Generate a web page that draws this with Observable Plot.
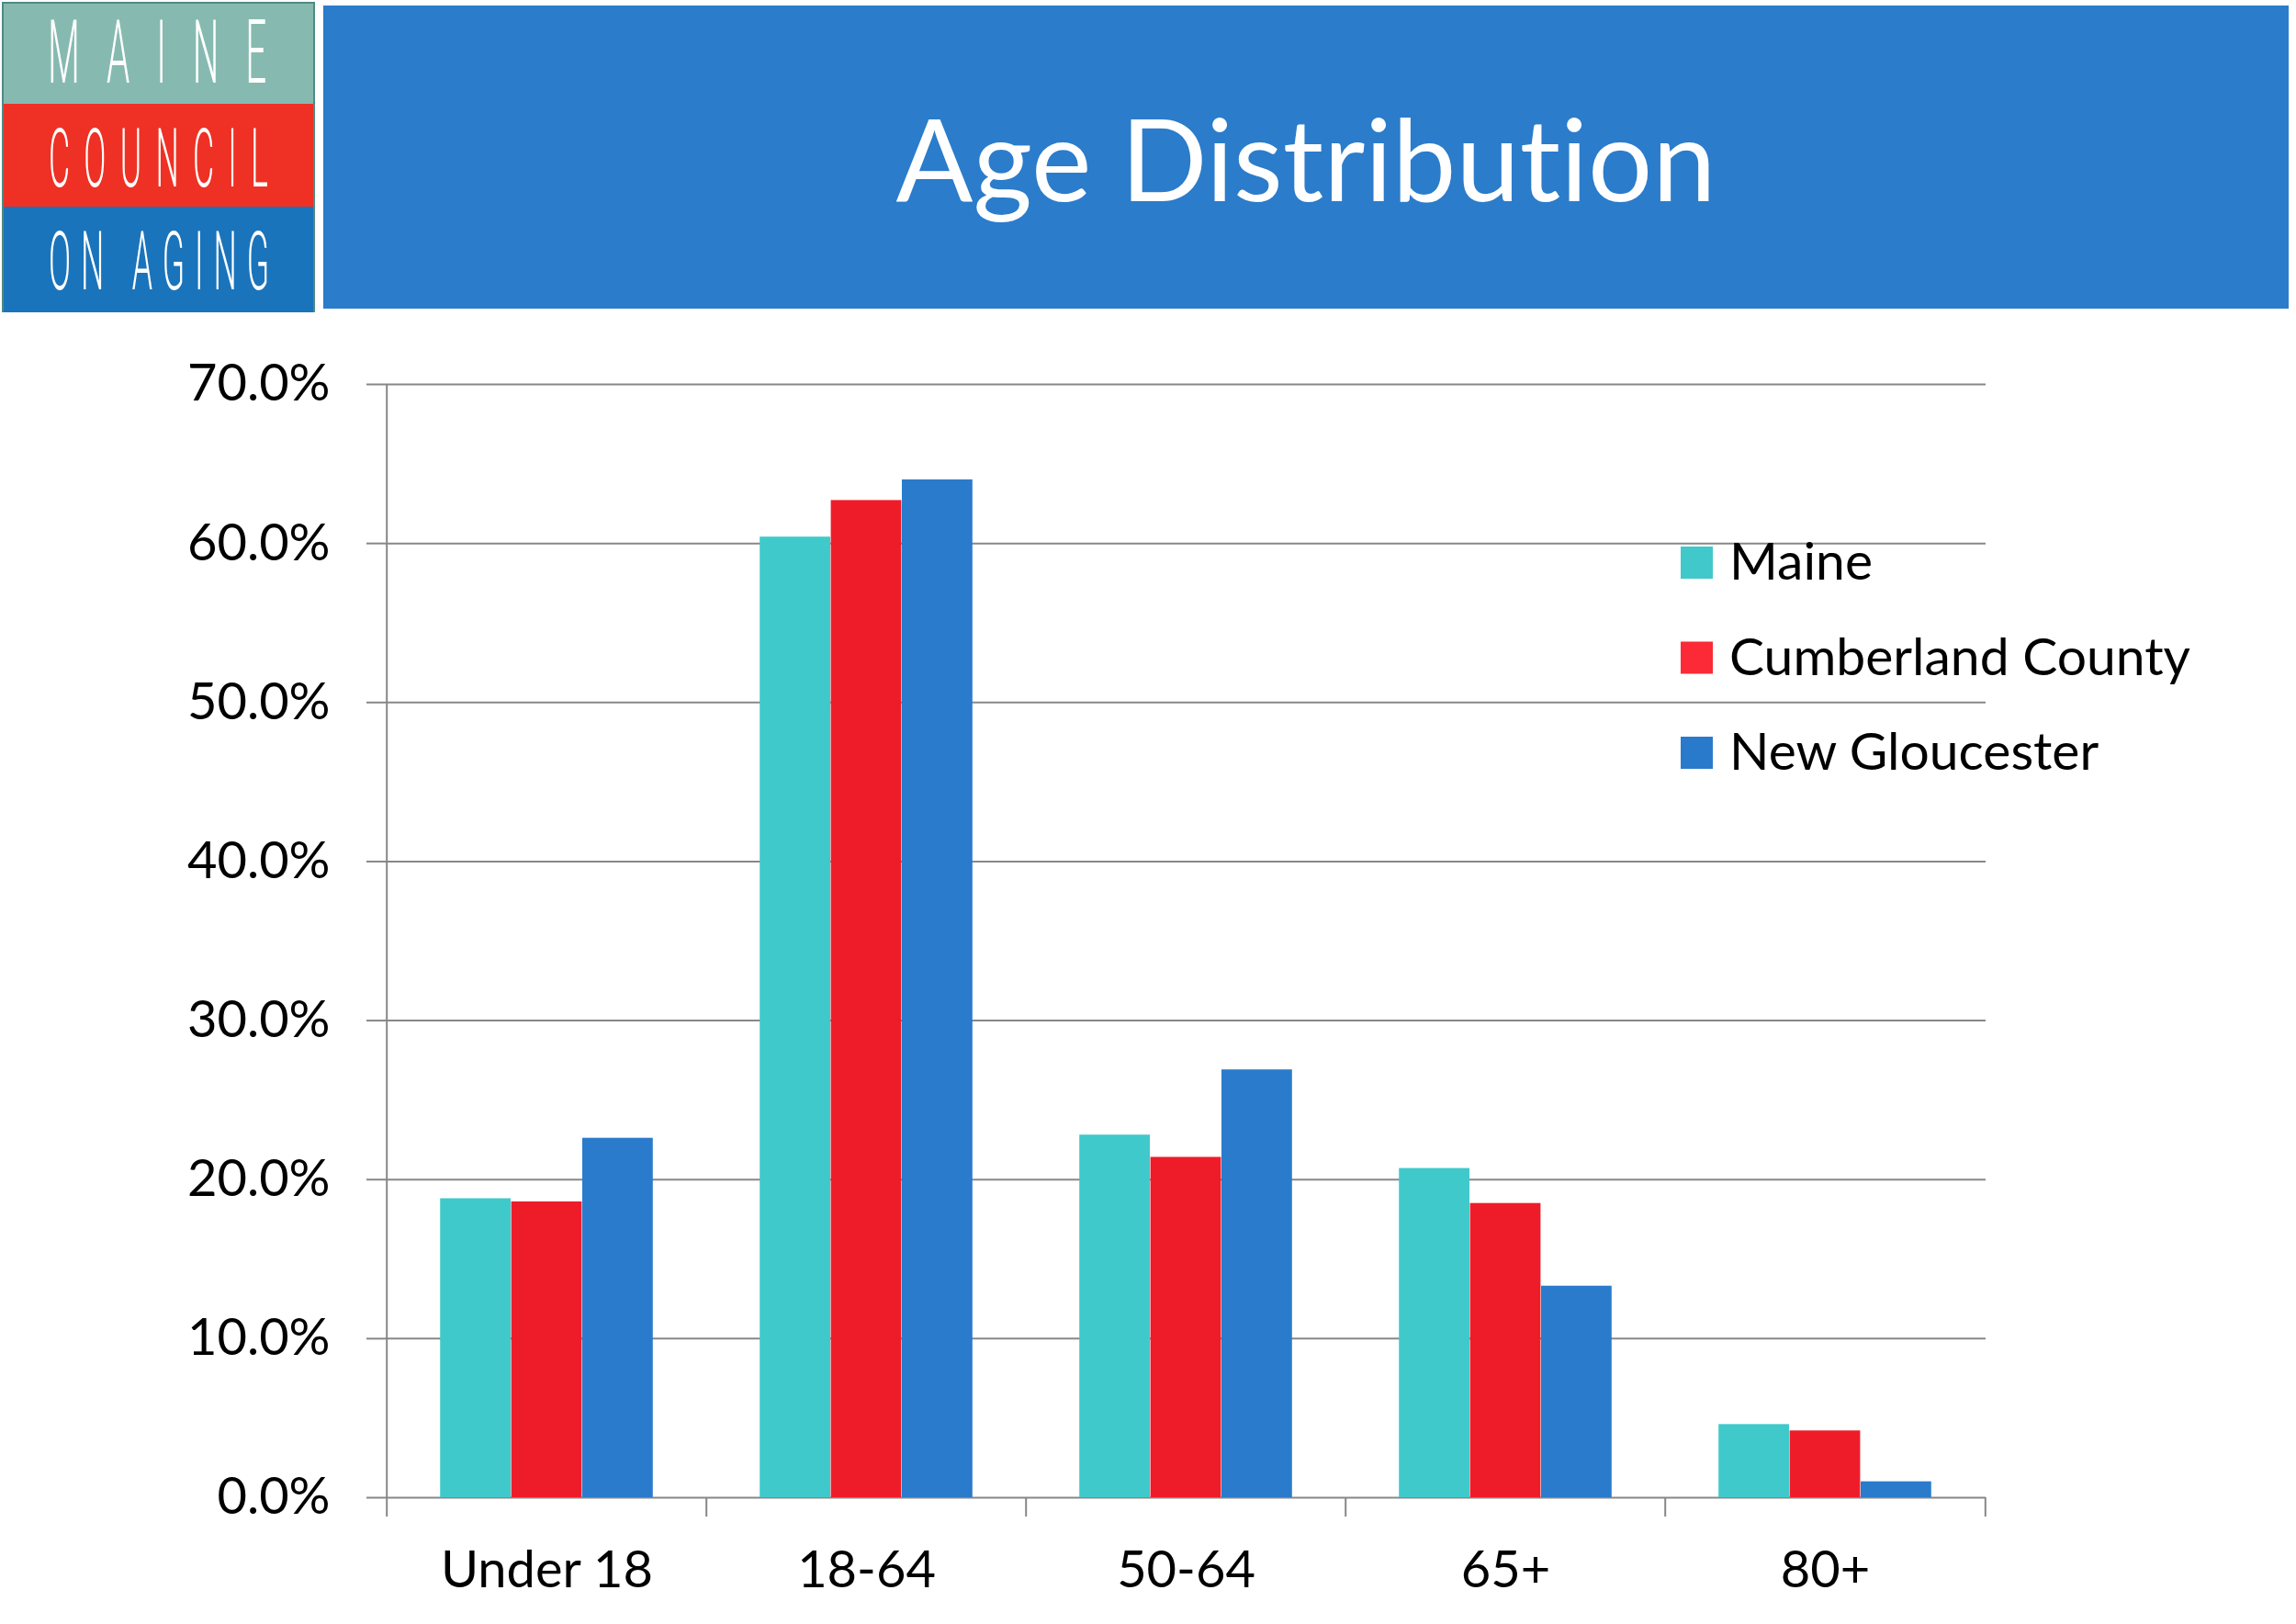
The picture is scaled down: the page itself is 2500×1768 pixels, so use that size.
<!DOCTYPE html>
<html><head><meta charset="utf-8">
<script src="https://cdn.jsdelivr.net/npm/d3@7"></script>
<script src="https://cdn.jsdelivr.net/npm/@observablehq/plot@0.6"></script>
<style>
html,body{margin:0;padding:0;background:#fff;width:2500px;height:1768px;overflow:hidden;font-family:Lato,sans-serif;}
svg text{font-variant-ligatures:none;font-feature-settings:"liga" 0;}
#header{position:absolute;left:0;top:0;}
#chart{position:absolute;left:0;top:340px;}
#legend{position:absolute;left:1800px;top:560px;}
#legend svg{overflow:visible;}
</style></head><body>
<svg id="header" width="2500" height="340">
  <rect x="3" y="3" width="339" height="110" fill="#86BAB0"/>
  <rect x="3" y="113" width="339" height="112" fill="#EE3124"/>
  <rect x="3" y="225" width="339" height="116" fill="#1A74BB"/>
  <rect x="3" y="3" width="339" height="338" fill="none" stroke="#4E8A84" stroke-width="2"/>
  <g font-family="Roboto" font-weight="300" fill="#fff">
    <text font-size="96" transform="translate(52,90) scale(0.42,1)" textLength="567" lengthAdjust="spacing">MAINE</text>
    <text font-size="89" transform="translate(53,203) scale(0.4,1)" textLength="597" lengthAdjust="spacing">COUNCIL</text>
    <text font-size="89" transform="translate(53,315) scale(0.4,1)" textLength="600" lengthAdjust="spacing">ON AGING</text>
  </g>
  <rect x="352" y="6" width="2140" height="330" fill="#2B7CCB"/>
  <text x="1422" y="219" text-anchor="middle" font-family="Lato" font-size="124" fill="#fff">Age Distribution</text>
</svg>
<div id="chart"></div>
<div id="legend"></div>
<script>
const categories = ["Under 18", "18-64", "50-64", "65+", "80+"];
const seriesNames = ["Maine", "Cumberland County", "New Gloucester"];
const maine = [18.8, 60.4, 22.8, 20.7, 4.6];
const cumberland = [18.6, 62.7, 21.4, 18.5, 4.2];
const newGloucester = [22.6, 64.0, 26.9, 13.3, 1.0];
const yTicks = [0, 10, 20, 30, 40, 50, 60, 70];
const colors = ["#40C9CB", "#EE1C29", "#2A7BCB"];
const legendColors = ["#40C8CA", "#FB2A36", "#2A7ACB"];

const W = 2500, H = 1428;
const mL = 419, mR = 338, mT = 78, mB = 138;
const plotH = H - mT - mB;
const B = (W - mL - mR) / categories.length;
const groupFrac = 0.666;
const barW = B * groupFrac / seriesNames.length;
const gap = B * (1 - groupFrac) / 2;
const seriesValues = [maine, cumberland, newGloucester];
const rows = seriesNames.flatMap((s, i) => categories.map((c, j) => ({category: c, series: s, value: seriesValues[i][j]})));
const gridColor = "#878787";

const chart = Plot.plot({
  width: W, height: H,
  marginLeft: mL, marginRight: mR, marginTop: mT, marginBottom: mB,
  style: {fontFamily: "Lato", fontSize: "56px", background: "transparent", overflow: "visible"},
  x: {domain: categories, padding: 0, label: null},
  y: {domain: [0, 70], label: null},
  color: {domain: seriesNames, range: colors},
  marks: [
    Plot.ruleY(yTicks, {stroke: gridColor, strokeWidth: 2}),
    ...seriesNames.map((s, i) => Plot.barY(rows, {
      filter: d => d.series === s, x: "category", y: "value", fill: "series",
      insetLeft: gap + i * barW, insetRight: B - gap - (i + 1) * barW
    })),
    Plot.ruleX([categories[0]], {x: d => d, dx: -B / 2, stroke: gridColor, strokeWidth: 2, insetBottom: -21}),
    Plot.ruleX(categories.slice(1), {x: d => d, dx: -B / 2, stroke: gridColor, strokeWidth: 2, insetTop: plotH, insetBottom: -21}),
    Plot.ruleX([categories[categories.length - 1]], {x: d => d, dx: B / 2, stroke: gridColor, strokeWidth: 2, insetTop: plotH, insetBottom: -21}),
    Plot.axisY({ticks: yTicks, tickSize: 20, tickPadding: 40, tickFormat: d => d.toFixed(1) + "%", fontSize: 56, stroke: gridColor, strokeWidth: 2, fill: "#000", label: null}),
    Plot.axisX({tickSize: 0, tickPadding: 58, fontSize: 56, fill: "#000", label: null})
  ]
});
document.getElementById("chart").appendChild(chart);

const leg = d3.select("#legend").append("svg").attr("width", 700).attr("height", 340);
seriesNames.forEach((s, i) => {
  const g = leg.append("g").attr("transform", `translate(20,${20 + i * 103.5})`);
  g.append("rect").attr("x", 10).attr("y", 15).attr("width", 35).attr("height", 35).attr("fill", legendColors[i]);
  g.append("text").attr("x", 63).attr("y", 51).attr("font-family", "Lato").attr("font-size", 57).attr("fill", "#000").text(s);
});
</script>
</body></html>
